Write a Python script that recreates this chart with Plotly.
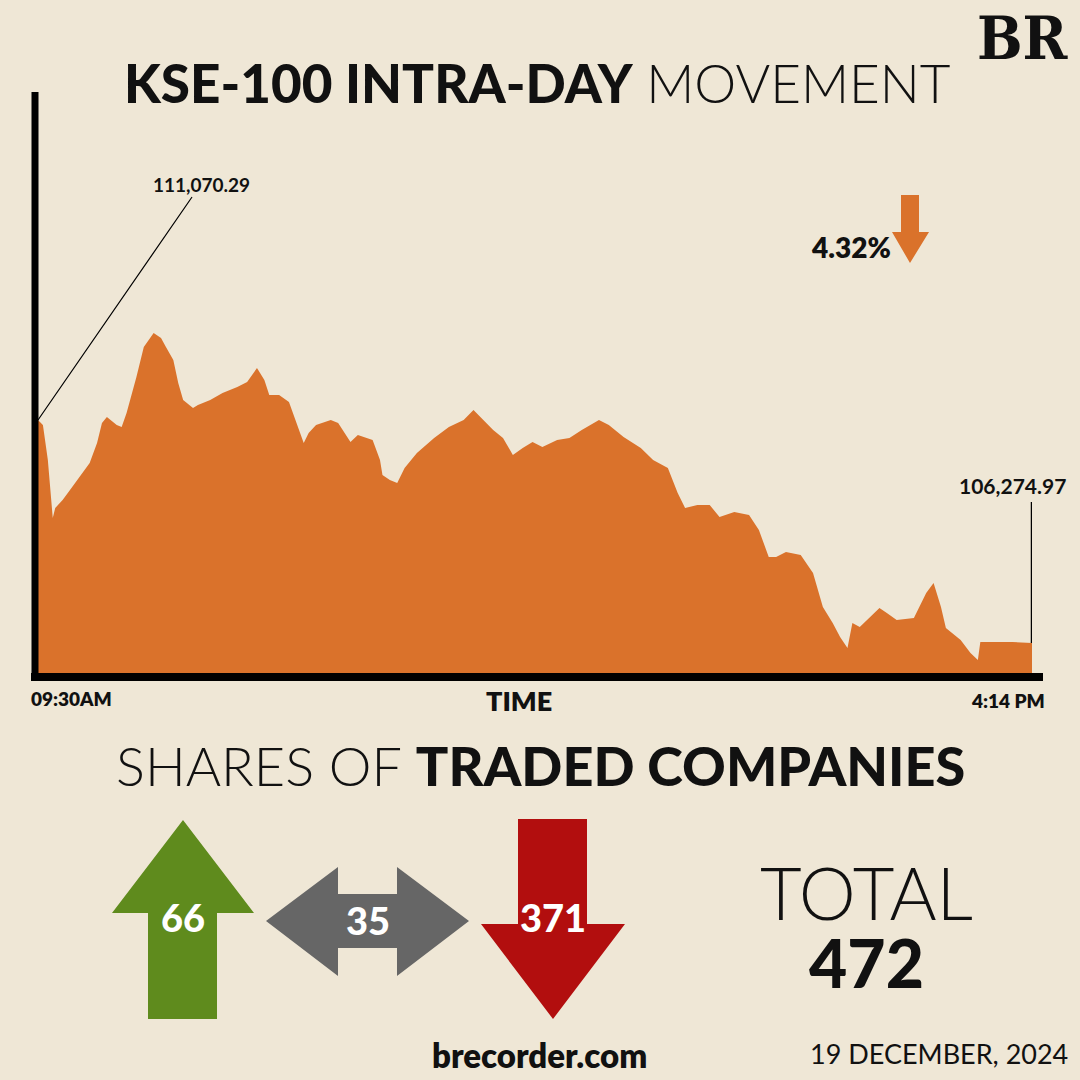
import plotly.graph_objects as go
import pandas as pd

# ---------------- data ----------------
OPEN_TIME = "2024-12-19 09:30"
CLOSE_TIME = "2024-12-19 16:14"
MINUTES_AFTER_OPEN = [0, 2, 4, 6, 7, 10, 13, 17, 21, 24, 26, 28, 32, 34, 36, 40, 43, 47, 50, 52,
                      55, 57, 59, 63, 65, 70, 75, 81, 85, 89, 92, 94, 98, 102, 105, 108, 110, 113, 119, 122,
                      127, 130, 136, 139, 140, 143, 146, 149, 154, 161, 167, 173, 177, 181, 185, 189, 193, 197, 201, 205,
                      211, 216, 221, 228, 232, 238, 245, 250, 256, 260, 263, 268, 273, 277, 283, 289, 293, 297, 300, 304,
                      310, 315, 319, 323, 326, 329, 331, 334, 337, 342, 345, 349, 356, 361, 364, 367, 369, 375, 379, 382,
                      383, 396, 404]
INDEX_VALUES = [111070.29, 110963, 110210, 108963, 109178, 109350, 109565, 109845, 110145, 110575,
                111005, 111135, 110963, 110920, 111220, 111995, 112640, 112940, 112833, 112640,
                112360, 111866, 111500, 111328, 111393, 111500, 111650, 111780, 111887, 112188,
                111930, 111608, 111608, 111457, 111005, 110575, 110790, 110963, 111070, 111005,
                110597, 110748, 110640, 110210, 109888, 109780, 109716, 110038, 110360, 110683,
                110920, 111070, 111285, 111070, 110855, 110683, 110318, 110468, 110597, 110490,
                110640, 110683, 110855, 111070, 110963, 110705, 110468, 110210, 110038, 109500,
                109178, 109243, 109243, 108985, 109092, 109028, 108705, 108125, 108125, 108232,
                108168, 107780, 107050, 106706, 106405, 106168, 106706, 106620, 106770, 107028,
                106920, 106770, 106813, 107350, 107566, 107050, 106598, 106340, 106060, 105910,
                106297, 106297, 106274.97]
START_LABEL = "111,070.29"
END_LABEL = "106,274.97"
CHANGE_LABEL = "4.32%"
TIME_LABELS = ["09:30AM", "4:14 PM"]
SHARE_CATEGORIES = ["Advanced", "Unchanged", "Declined"]
SHARE_COUNTS = [66, 35, 371]
TOTAL_COUNT = 472
DATE_LABEL = "19 DECEMBER, 2024"

# ---------------- style ----------------
W = H = 1080
BG = "#EFE7D6"
ORANGE = "#DA722B"
GREEN = "#5F8B1D"
GREY = "#666666"
RED = "#B20E0E"
FONT = "Lato"

def px(x):
    return x / W

def py(y):
    return 1 - y / H

def path(pts):
    return "M " + " L ".join(f"{px(x):.5f},{py(y):.5f}" for x, y in pts) + " Z"

times = [pd.Timestamp(OPEN_TIME) + pd.Timedelta(minutes=m) for m in MINUTES_AFTER_OPEN]

fig = go.Figure()
fig.add_trace(go.Scatter(
    x=times, y=INDEX_VALUES, mode="lines",
    line=dict(width=0, color=ORANGE), fill="tozeroy", fillcolor=ORANGE,
    hoverinfo="x+y", showlegend=False))

fig.update_layout(
    width=W, height=H, autosize=False,
    margin=dict(l=0, r=0, t=0, b=0),
    paper_bgcolor=BG, plot_bgcolor=BG,
    xaxis=dict(type="date", range=[pd.Timestamp(OPEN_TIME), pd.Timestamp(CLOSE_TIME)],
               domain=[px(38), px(1032)], visible=False, fixedrange=True),
    yaxis=dict(range=[105630, 118124], domain=[py(673), py(92)], visible=False, fixedrange=True),
    font=dict(family=FONT, color="#111111"),
)

shapes = []
# axes lines
shapes.append(dict(type="line", xref="paper", yref="paper", x0=px(35), x1=px(35), y0=py(92), y1=py(681),
                   line=dict(color="black", width=7)))
shapes.append(dict(type="line", xref="paper", yref="paper", x0=px(31), x1=px(1043), y0=py(677), y1=py(677),
                   line=dict(color="black", width=8)))
# closing value leader line
shapes.append(dict(type="line", xref="x", yref="y", x0=times[-1], x1=times[-1],
                   y0=INDEX_VALUES[-1], y1=INDEX_VALUES[-1] + 3030,
                   line=dict(color="black", width=2.5)))
# orange down arrow next to change %
shapes.append(dict(type="path", xref="paper", yref="paper", line=dict(width=0), fillcolor=ORANGE,
                   path=path([(901, 195), (919, 195), (919, 232), (929, 232), (910, 263), (892, 232), (901, 232)])))
# green up arrow
shapes.append(dict(type="path", xref="paper", yref="paper", line=dict(width=0), fillcolor=GREEN,
                   path=path([(183, 820), (254, 913), (217, 913), (217, 1019), (148, 1019), (148, 913), (112, 913)])))
# grey double arrow
shapes.append(dict(type="path", xref="paper", yref="paper", line=dict(width=0), fillcolor=GREY,
                   path=path([(266, 921), (338, 867), (338, 894), (397, 894), (397, 867), (469, 921),
                              (397, 976), (397, 948), (338, 948), (338, 976)])))
# red down arrow
shapes.append(dict(type="path", xref="paper", yref="paper", line=dict(width=0), fillcolor=RED,
                   path=path([(518, 819), (587, 819), (587, 924), (625, 924), (553, 1019), (481, 924), (518, 924)])))
fig.update_layout(shapes=shapes)

ann = []
def text(x, y, t, size, weight=400, color="#111111", xanchor="center", family=FONT):
    ann.append(dict(xref="paper", yref="paper", x=px(x), y=py(y), text=t, showarrow=False,
                    xanchor=xanchor, yanchor="middle",
                    font=dict(size=size, color=color, family=family, weight=weight)))

# title
text(537, 82, '<span style="font-weight:900">KSE-100 INTRA-DAY</span> <span style="font-weight:300">MOVEMENT</span>', 53)
# BR logo
text(1023, 38, 'BR', 60, 700, family="DejaVu Serif Condensed, Liberation Serif")
# start value annotation tied to the first point
ann.append(dict(xref="x", yref="y", x=times[0], y=INDEX_VALUES[0], text=START_LABEL,
                showarrow=True, arrowhead=0, arrowwidth=1.2, arrowcolor="black",
                axref="pixel", ayref="pixel", ax=163, ay=-236, standoff=0,
                font=dict(size=19, family=FONT, weight=700, color="#111111")))
# end value label
text(1012, 485, END_LABEL, 21, 700)
# change
text(851, 247, CHANGE_LABEL, 28, 800)
# x labels
text(29, 698, TIME_LABELS[0], 19, 800, xanchor="left")
text(519, 700, "TIME", 27, 800)
text(1047, 700, TIME_LABELS[1], 19, 800, xanchor="right")
# shares title
text(540, 765, '<span style="font-weight:300">SHARES OF</span> <span style="font-weight:900">TRADED COMPANIES</span>', 54)
# arrow numbers
text(183, 917, str(SHARE_COUNTS[0]), 38, 900, color="white")
text(368, 920, str(SHARE_COUNTS[1]), 38, 900, color="white")
text(553, 917, str(SHARE_COUNTS[2]), 38, 900, color="white")
# total (one two-line text block)
text(866, 925,
     '<span style="font-size:72px;font-weight:300">TOTAL</span><br>'
     f'<span style="font-size:66px;font-weight:900">{TOTAL_COUNT}</span>', 52)
# footer
text(539, 1055, "brecorder.com", 33, 800)
text(939, 1053, DATE_LABEL, 27, 400)
fig.update_layout(annotations=ann)

fig.write_html("out.html", config={"displayModeBar": False},
               post_script="document.body.style.margin='0';document.body.style.padding='0';")
